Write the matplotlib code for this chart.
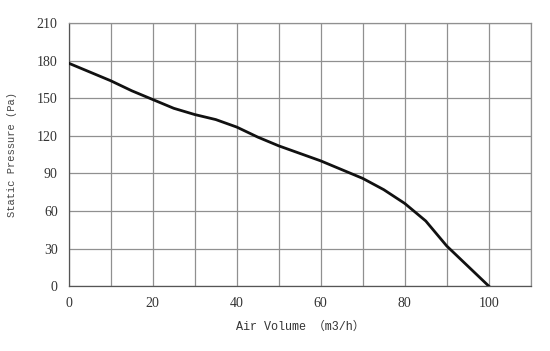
import matplotlib.pyplot as plt

# fan curve
air_volume = [0, 5, 10, 15, 20, 25, 30, 35, 40, 45, 50, 55, 60, 65, 70, 75, 80, 85, 90, 95, 100]
pressure = [178, 171, 164, 156, 149, 142, 137, 133, 127, 119, 112, 106, 100, 93, 86, 77, 66, 52, 32, 16, 0]

x_ticks = [0, 20, 40, 60, 80, 100]
y_ticks = [0, 30, 60, 90, 120, 150, 180, 210]

fig = plt.figure(figsize=(5.5, 3.51), dpi=100)
ax = fig.add_axes([0.125, 0.185, 0.84, 0.749])

ax.plot(air_volume, pressure, color="#111111", lw=2.0, solid_joinstyle="round", zorder=3)

ax.set_xlim(0, 110)
ax.set_ylim(0, 210)
ax.set_xticks(range(0, 111, 10))
ax.set_xticklabels([str(v) if v in x_ticks else "" for v in range(0, 111, 10)])
ax.set_yticks(y_ticks)
ax.grid(True, color="#909090", lw=0.9)
ax.tick_params(length=0, pad=8, labelsize=10, labelcolor="#333333",
               labelfontfamily="Liberation Serif")
for s in ax.spines.values():
    s.set_color("#909090")
    s.set_linewidth(0.9)
ax.spines["left"].set_color("#555555")
ax.spines["bottom"].set_color("#555555")

ax.set_xlabel("Air Volume （m3/h）", fontsize=8.5, family=["Liberation Mono", "Noto Sans CJK SC"],
              labelpad=8, color="#333333")
ax.set_ylabel("Static Pressure (Pa)", fontsize=7.5, family="Liberation Mono", labelpad=14,
              color="#444444")

fig.savefig("out.png")
